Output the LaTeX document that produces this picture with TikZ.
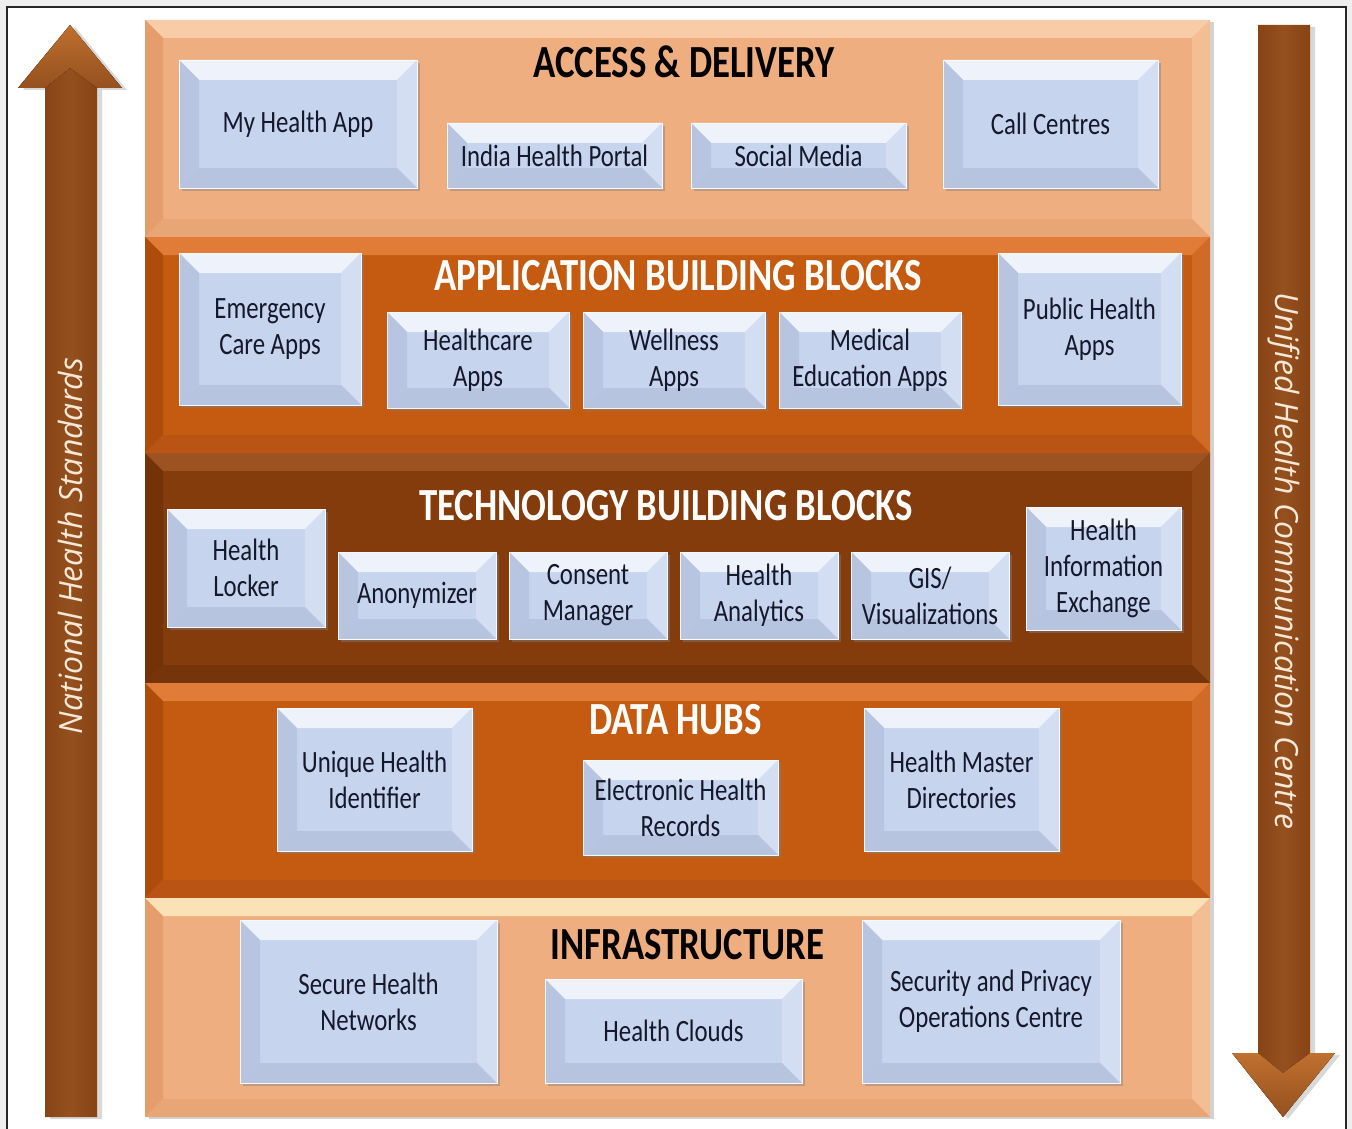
\documentclass[tikz,border=0pt]{standalone}
\usepackage{fontspec}
\setmainfont{Carlito}[FakeStretch=0.8]
\newfontfamily\arrowfont{Open Sans}
\usetikzlibrary{shadows}
\definecolor{bgout}{HTML}{EFEFEF}
\definecolor{txtc}{HTML}{14182A}
\definecolor{arrtxt}{HTML}{F6E8D6}
\definecolor{arrdark}{HTML}{7A370C}
\definecolor{arrmid}{HTML}{94501E}
\definecolor{headlt}{HTML}{C0702F}
% blue boxes
\definecolor{bC}{HTML}{C7D4EE}
\definecolor{bT}{HTML}{EEF2FA}
\definecolor{bL}{HTML}{B7C5E0}
\definecolor{bR}{HTML}{D4DEF2}
\definecolor{bB}{HTML}{B6C4E0}
% light orange panel
\definecolor{lC}{HTML}{EEAE80}
\definecolor{lT}{HTML}{F7CCA6}
\definecolor{lL}{HTML}{E49D6B}
\definecolor{lR}{HTML}{F3BE94}
\definecolor{lB}{HTML}{E8A676}
\definecolor{lTy}{HTML}{FAE2B6}
% orange panel
\definecolor{oC}{HTML}{C55A11}
\definecolor{oT}{HTML}{E07C38}
\definecolor{oL}{HTML}{AE4C0C}
\definecolor{oR}{HTML}{D06B26}
\definecolor{oB}{HTML}{BA5414}
% brown panel
\definecolor{dC}{HTML}{843C0C}
\definecolor{dT}{HTML}{9D5222}
\definecolor{dL}{HTML}{743208}
\definecolor{dR}{HTML}{8F4716}
\definecolor{dB}{HTML}{76340B}
\tikzset{
  bevel/.style n args={6}{fill=#6,
    path picture={
      \fill[#2] (path picture bounding box.north west) -- (path picture bounding box.north east)
        -- ([shift={(-#1,-#1)}]path picture bounding box.north east) -- ([shift={(#1,-#1)}]path picture bounding box.north west) -- cycle;
      \fill[#3] (path picture bounding box.north west) -- ([shift={(#1,-#1)}]path picture bounding box.north west)
        -- ([shift={(#1,#1)}]path picture bounding box.south west) -- (path picture bounding box.south west) -- cycle;
      \fill[#4] (path picture bounding box.north east) -- ([shift={(-#1,-#1)}]path picture bounding box.north east)
        -- ([shift={(-#1,#1)}]path picture bounding box.south east) -- (path picture bounding box.south east) -- cycle;
      \fill[#5] (path picture bounding box.south west) -- ([shift={(#1,#1)}]path picture bounding box.south west)
        -- ([shift={(-#1,#1)}]path picture bounding box.south east) -- (path picture bounding box.south east) -- cycle;
    }},
  panel/.style={rectangle, inner sep=0pt, minimum width=1065pt,
    drop shadow={shadow xshift=4pt, shadow yshift=-2pt, opacity=0.35}},
  lpanel/.style={panel, bevel={18pt}{lT}{lL}{lR}{lB}{lC}},
  ipanel/.style={panel, bevel={18pt}{lTy}{lL}{lR}{lB}{lC}},
  opanel/.style={panel, bevel={18pt}{oT}{oL}{oR}{oB}{oC}},
  dpanel/.style={panel, bevel={18pt}{dT}{dL}{dR}{dB}{dC}},
  bbox/.style={rectangle, inner sep=2pt, align=center, text=txtc,
    font=\fontsize{31}{36}\selectfont,
    bevel={20pt}{bT}{bL}{bR}{bB}{bC},
    draw=white!85!bC, line width=0.8pt,
    drop shadow={shadow xshift=3pt, shadow yshift=-3pt, opacity=0.45}},
  ttl/.style={inner sep=0pt, font=\fontsize{46}{50}\bfseries\selectfont},
  arrtext/.style={inner sep=0pt, text=arrtxt, font=\arrowfont\itshape\fontsize{32}{36}\selectfont},
  bigarrow/.style={left color=arrdark, right color=arrdark, middle color=arrmid,
    drop shadow={shadow xshift=5pt, shadow yshift=-2pt, opacity=0.3}},
}
\begin{document}
\begin{tikzpicture}[x=1pt,y=-1pt]
\useasboundingbox (0,0) rectangle (1352,1129);
\fill[bgout] (0,0) rectangle (1352,1129);
\draw[fill=white, line width=1.5pt, draw=black!85] (7,7) rectangle (1346,1140);

% arrows
\path[bigarrow] (45,1117) -- (45,88) -- (18,88) -- (70,25) -- (122,88) -- (97,88) -- (97,1117) -- cycle;
\fill[top color=headlt, bottom color=arrmid] (18,88) -- (70,25) -- (122,88) -- (97,88) -- (70,68) -- (45,88) -- cycle;
\path[bigarrow] (1258,25) -- (1258,1053) -- (1232,1053) -- (1283,1117) -- (1335,1053) -- (1310,1053) -- (1310,25) -- cycle;
\fill[top color=headlt, bottom color=arrmid] (1232,1053) -- (1258,1053) -- (1283,1073) -- (1310,1053) -- (1335,1053) -- (1283,1117) -- cycle;
\node[arrtext, rotate=90] (nhs) at (70,546) {National Health Standards};
\node[arrtext, rotate=-90] (uhcc) at (1284,561) {Unified Health Communication Centre};

% panels
\node[lpanel, minimum height=217pt] (access) at (677.5,128.5) {};
\node[opanel, minimum height=216pt] (app) at (677.5,345) {};
\node[dpanel, minimum height=230pt] (tech) at (677.5,568) {};
\node[opanel, minimum height=215pt] (data) at (677.5,790.5) {};
\node[ipanel, minimum height=219pt] (infra) at (677.5,1007.5) {};

% titles
\node[ttl, text=black] (t-access) at (684,62) {ACCESS \& DELIVERY};
\node[ttl, text=white] (t-app) at (678,276) {APPLICATION BUILDING BLOCKS};
\node[ttl, text=white] (t-tech) at (666,506) {TECHNOLOGY BUILDING BLOCKS};
\node[ttl, text=white] (t-data) at (675.5,720) {DATA HUBS};
\node[ttl, text=black] (t-infra) at (687.5,945) {INFRASTRUCTURE};

% access boxes
\node[bbox, minimum width=238pt, minimum height=128pt] (myapp) at (298,124) {My Health App};
\node[bbox, minimum width=215pt, minimum height=65pt] (portal) at (554.5,155.5) {India Health Portal};
\node[bbox, minimum width=215pt, minimum height=65pt] (social) at (798.5,155.5) {Social Media};
\node[bbox, minimum width=215pt, minimum height=128pt] (call) at (1050.5,124) {Call Centres};

% application boxes
\node[bbox, minimum width=182pt, minimum height=152pt] (emerg) at (270,329) {Emergency\\Care Apps};
\node[bbox, minimum width=182pt, minimum height=96pt] (hcare) at (478,360) {Healthcare\\Apps};
\node[bbox, minimum width=182pt, minimum height=96pt] (well) at (674,360) {Wellness\\Apps};
\node[bbox, minimum width=182pt, minimum height=96pt] (medu) at (870,360) {Medical\\Education Apps};
\node[bbox, minimum width=183pt, minimum height=152pt] (pub) at (1089.5,329) {Public Health\\Apps};

% technology boxes
\node[bbox, minimum width=158pt, minimum height=118pt] (locker) at (246,568) {Health\\Locker};
\node[bbox, minimum width=158pt, minimum height=87pt] (anon) at (417,595.5) {Anonymizer};
\node[bbox, minimum width=158pt, minimum height=87pt] (consent) at (588,595.5) {Consent\\Manager};
\node[bbox, minimum width=158pt, minimum height=87pt] (analytics) at (759,595.5) {Health\\Analytics};
\node[bbox, minimum width=158pt, minimum height=87pt] (gis) at (930,595.5) {GIS/\\Visualizations};
\node[bbox, minimum width=155pt, minimum height=123pt] (hie) at (1103.5,568.5) {Health\\Information\\Exchange};

% data hub boxes
\node[bbox, minimum width=195pt, minimum height=143pt] (uhi) at (374.5,779.5) {Unique Health\\Identifier};
\node[bbox, minimum width=195pt, minimum height=95pt] (ehr) at (680.5,807.5) {Electronic Health\\Records};
\node[bbox, minimum width=195pt, minimum height=143pt] (hmd) at (961.5,779.5) {Health Master\\Directories};

% infrastructure boxes
\node[bbox, minimum width=257pt, minimum height=163pt] (shn) at (368.5,1001.5) {Secure Health\\Networks};
\node[bbox, minimum width=257pt, minimum height=104pt] (clouds) at (673.5,1031) {Health Clouds};
\node[bbox, minimum width=258pt, minimum height=163pt] (secops) at (991,1001.5) {Security and Privacy\\Operations Centre};
\end{tikzpicture}
\end{document}
